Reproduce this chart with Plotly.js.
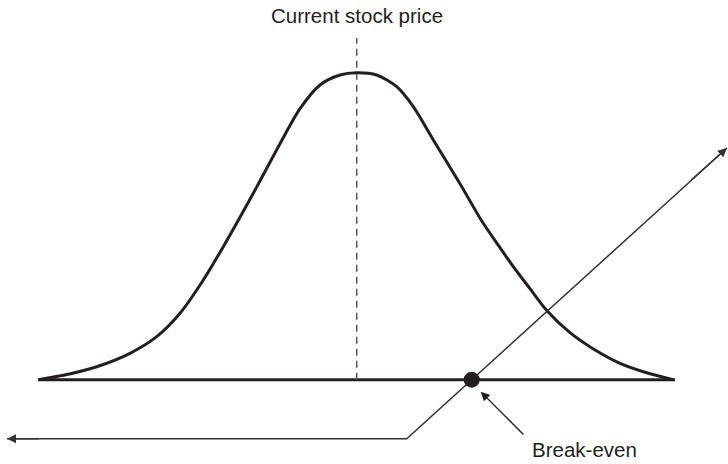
<!DOCTYPE html>
<html>
<head>
<meta charset="utf-8">
<script src="https://cdn.plot.ly/plotly-3.0.1.min.js"></script>
<style>
  body { margin: 0; background: #fff; }
  #grafico { width: 728px; height: 464px; }
</style>
</head>
<body>
<div id="grafico"></div>
<script>
// distribuição do preço da ação
const precoX = [38.3, 63.3, 96.7, 130, 156.7, 180, 203.3, 223.3, 253.3, 280, 300, 320, 340, 356.7, 376.7, 396.7, 413.3, 433.3, 460, 481, 500, 514, 530, 547, 570, 593, 620, 646.7, 673.3];
const densidadeY = [0, 4.4, 13, 26.4, 43, 66.4, 99.7, 133, 186.4, 236, 271, 294.7, 304.7, 307, 304.7, 293, 273, 239.7, 196, 160, 132, 112, 91, 69, 47, 31, 16.4, 7, 0];

// linha de lucro/prejuízo
const payoffX = [7, 406.7, 727];
const payoffY = [-59, -59, 231.7];

// eixo base
const baseX = [38.3, 675];
const baseY = [0, 0];

// preço atual
const precoAtual = 356.7;
const topoTracejado = 341.7;

// ponto de equilíbrio
const breakEvenX = 471.7;
const breakEvenY = 0;

const cor = "#231f20";

const data = [
  {x: baseX, y: baseY, mode: "lines", line: {color: cor, width: 3}, cliponaxis: false},
  {x: [precoAtual, precoAtual], y: [0, topoTracejado], mode: "lines",
   line: {color: "#555", width: 1.5, dash: "7px,5px"}, cliponaxis: false},
  {x: precoX, y: densidadeY, mode: "lines", line: {color: cor, width: 3, shape: "spline", smoothing: 0.8}, cliponaxis: false},
  {x: payoffX, y: payoffY, mode: "lines", line: {color: "#333", width: 1.5}, cliponaxis: false},
  {x: [breakEvenX], y: [breakEvenY], mode: "markers", marker: {color: cor, size: 16}, cliponaxis: false}
];

const fonte = {family: "Liberation Sans, Arial, sans-serif", size: 20.5, color: cor};

const layout = {
  width: 728,
  height: 464,
  margin: {l: 0, r: 0, t: 0, b: 0},
  showlegend: false,
  paper_bgcolor: "#fff",
  plot_bgcolor: "#fff",
  xaxis: {range: [0, 728], visible: false, fixedrange: true},
  yaxis: {range: [-84.3, 379.7], visible: false, fixedrange: true},
  annotations: [
    {x: precoAtual, y: 364.5, xref: "x", yref: "y", text: "Current stock price", showarrow: false, font: fonte},
    {x: 584.5, y: -69.5, xref: "x", yref: "y", text: "Break-even", showarrow: false, font: fonte},
    // seta apontando para o ponto de equilíbrio
    {x: 480.7, y: -12, ax: 525, ay: -56.3, xref: "x", yref: "y", axref: "x", ayref: "y",
     text: "", showarrow: true, arrowhead: 2, arrowsize: 1.3, arrowwidth: 1.4, arrowcolor: cor, standoff: 0},
    // pontas das setas da linha de payoff
    {x: payoffX[0], y: payoffY[0], ax: 40, ay: payoffY[0], xref: "x", yref: "y", axref: "x", ayref: "y",
     text: "", showarrow: true, arrowhead: 2, arrowsize: 1.2, arrowwidth: 1.5, arrowcolor: "#333", standoff: 0},
    {x: payoffX[2], y: payoffY[2], ax: 690, ay: 198.6, xref: "x", yref: "y", axref: "x", ayref: "y",
     text: "", showarrow: true, arrowhead: 2, arrowsize: 1.2, arrowwidth: 1.5, arrowcolor: "#333", standoff: 0}
  ]
};

Plotly.newPlot("grafico", data, layout, {staticPlot: true});
</script>
</body>
</html>
